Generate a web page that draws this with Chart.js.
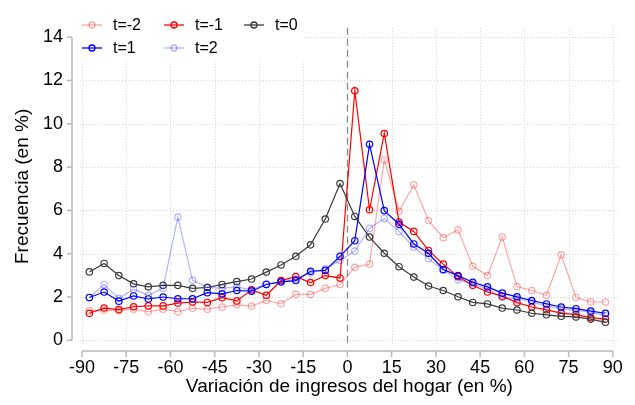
<!DOCTYPE html>
<html>
<head>
    <title>Variación de ingresos del hogar</title>
    <script src="https://cdn.jsdelivr.net/npm/chart.js"></script>
    <style>
        html, body {
            margin: 0;
            padding: 0;
            background-color: white;
        }
        #wrap {
            width: 635px;
            height: 405px;
        }
    </style>
</head>
<body>
    <div id="wrap"><canvas id="freqChart"></canvas></div>

    <script>
        // bin midpoints (% change in household income)
        const binMid = [-87.5, -82.5, -77.5, -72.5, -67.5, -62.5, -57.5, -52.5, -47.5, -42.5,
                        -37.5, -32.5, -27.5, -22.5, -17.5, -12.5, -7.5, -2.5, 2.5, 7.5,
                        12.5, 17.5, 22.5, 27.5, 32.5, 37.5, 42.5, 47.5, 52.5, 57.5,
                        62.5, 67.5, 72.5, 77.5, 82.5, 87.5];

        const seriesNames = ['t=-2', 't=-1', 't=0', 't=1', 't=2'];

        const tMinus2 = [1.37, 1.39, 1.37, 1.44, 1.32, 1.44, 1.32, 1.48, 1.44, 1.54,
                         1.64, 1.58, 1.84, 1.69, 2.12, 2.12, 2.40, 2.58, 3.37, 3.52,
                         8.33, 5.96, 7.18, 5.53, 4.74, 5.10, 3.42, 2.99, 4.77, 2.48,
                         2.30, 2.08, 3.95, 1.98, 1.78, 1.77];
        const tMinus1 = [1.25, 1.49, 1.42, 1.55, 1.59, 1.59, 1.72, 1.77, 1.75, 1.97,
                         1.82, 2.33, 2.08, 2.76, 2.94, 2.67, 2.99, 2.88, 11.52, 6.03,
                         9.55, 5.46, 5.03, 4.15, 3.52, 2.94, 2.54, 2.23, 2.04, 1.74,
                         1.54, 1.41, 1.26, 1.19, 1.05, 0.98];
        const tZero   = [3.16, 3.55, 2.99, 2.61, 2.47, 2.54, 2.54, 2.40, 2.44, 2.58,
                         2.71, 2.83, 3.15, 3.48, 3.88, 4.41, 5.60, 7.24, 5.72, 4.77,
                         4.02, 3.40, 2.92, 2.51, 2.30, 2.01, 1.75, 1.68, 1.49, 1.40,
                         1.25, 1.18, 1.11, 1.08, 0.98, 0.83];
        const tPlus1  = [1.98, 2.23, 1.81, 2.05, 1.91, 2.00, 1.92, 1.92, 2.20, 2.15,
                         2.30, 2.27, 2.58, 2.70, 2.76, 3.19, 3.23, 3.88, 4.60, 9.05,
                         5.99, 5.36, 4.45, 4.02, 3.27, 2.99, 2.68, 2.47, 2.18, 2.01,
                         1.84, 1.68, 1.54, 1.46, 1.35, 1.25];
        const tPlus2  = [1.97, 2.58, 1.94, 2.36, 2.08, 2.41, 5.69, 2.77, 2.46, 2.40,
                         2.47, 2.33, 2.61, 2.68, 2.83, 3.12, 3.30, 3.69, 4.12, 5.17,
                         5.63, 5.03, 4.30, 3.77, 3.23, 2.80, 2.61, 2.37, 1.98, 1.93,
                         1.77, 1.58, 1.46, 1.39, 1.29, 1.15];

        const xTicks = [-90, -75, -60, -45, -30, -15, 0, 15, 30, 45, 60, 75, 90];
        const yTicks = [0, 2, 4, 6, 8, 10, 12, 14];

        const colors = ['rgba(255,0,0,0.35)', '#ff0000', '#3a3a3a', '#0000ff', 'rgba(0,0,255,0.3)'];
        const allSeries = [tMinus2, tMinus1, tZero, tPlus1, tPlus2];

        const tickFont = { family: 'Liberation Sans, Arial, sans-serif', size: 18 };
        const titleFont = { family: 'Liberation Sans, Arial, sans-serif', size: 19 };

        // stata-like axes, grid, zero line and legend
        const stataLook = {
            id: 'stataLook',
            beforeDatasetsDraw(chart) {
                const { ctx, chartArea: a, scales: { x, y } } = chart;
                const seg = (x1, y1, x2, y2) => {
                    ctx.beginPath(); ctx.moveTo(x1, y1); ctx.lineTo(x2, y2); ctx.stroke();
                };
                ctx.save();
                ctx.strokeStyle = '#d4d4d4';
                ctx.lineWidth = 1;
                ctx.setLineDash([1, 2]);
                yTicks.forEach(v => {
                    const py = Math.round(y.getPixelForValue(v)) + 0.5;
                    seg(a.left, py, a.right, py);
                });
                xTicks.forEach(v => {
                    if (v === 0) return;
                    const px = Math.round(x.getPixelForValue(v)) + 0.5;
                    seg(px, a.top, px, a.bottom);
                });
                // dashed line at zero
                ctx.strokeStyle = '#8a8a8a';
                ctx.lineWidth = 1.3;
                ctx.setLineDash([7, 4]);
                const x0 = Math.round(x.getPixelForValue(0)) + 0.5;
                seg(x0, a.top, x0, a.bottom);

                // axis lines
                ctx.setLineDash([]);
                ctx.strokeStyle = '#b8b8b8';
                ctx.lineWidth = 1.5;
                const ax = a.left - 8;
                seg(ax, y.getPixelForValue(0), ax, y.getPixelForValue(14));
                yTicks.forEach(v => {
                    const py = y.getPixelForValue(v);
                    seg(ax - 5, py, ax, py);
                });
                const ay = a.bottom + 6;
                seg(x.getPixelForValue(-90), ay, x.getPixelForValue(90), ay);
                xTicks.forEach(v => {
                    const px = x.getPixelForValue(v);
                    seg(px, ay, px, ay + 6);
                });
                ctx.restore();
            },
            afterDatasetsDraw(chart) {
                const { ctx, chartArea: a } = chart;
                ctx.save();
                ctx.fillStyle = 'white';
                ctx.fillRect(a.left, 8, 224, 52);
                const cols = [92, 174, 254];
                const rows = [25, 48];
                ctx.font = '16px Liberation Sans, Arial, sans-serif';
                ctx.textBaseline = 'middle';
                seriesNames.forEach((name, i) => {
                    const cx = cols[i % 3];
                    const cy = rows[Math.floor(i / 3)];
                    ctx.strokeStyle = colors[i];
                    ctx.lineWidth = 1.3;
                    ctx.beginPath(); ctx.moveTo(cx - 10, cy); ctx.lineTo(cx + 10, cy); ctx.stroke();
                    ctx.beginPath(); ctx.arc(cx, cy, 3, 0, Math.PI * 2); ctx.stroke();
                    ctx.fillStyle = '#000';
                    ctx.fillText(name, cx + 21, cy + 1);
                });
                ctx.restore();
            }
        };

        const datasets = allSeries.map((vals, i) => ({
            label: seriesNames[i],
            data: binMid.map((xv, j) => ({ x: xv, y: vals[j] })),
            borderColor: colors[i],
            borderWidth: 1.2,
            pointRadius: 3.2,
            pointBorderWidth: 1.2,
            pointBorderColor: colors[i],
            pointBackgroundColor: 'rgba(0,0,0,0)',
            fill: false,
            tension: 0,
            order: 5 - i
        }));

        new Chart(document.getElementById('freqChart').getContext('2d'), {
            type: 'line',
            data: { datasets: datasets },
            plugins: [stataLook],
            options: {
                responsive: true,
                maintainAspectRatio: false,
                animation: false,
                layout: { padding: { left: 0, right: 13, top: 5, bottom: 0 } },
                plugins: {
                    legend: { display: false },
                    tooltip: { enabled: false }
                },
                scales: {
                    x: {
                        type: 'linear',
                        min: -90.674,
                        max: 92.02,
                        afterBuildTicks: s => { s.ticks = xTicks.map(v => ({ value: v })); },
                        afterFit: s => { s.height = 60; },
                        grid: { display: false, drawTicks: false },
                        border: { display: false },
                        ticks: {
                            color: '#000',
                            font: tickFont,
                            padding: 12,
                            maxRotation: 0,
                            autoSkip: false,
                            callback: v => String(v)
                        },
                        title: {
                            display: true,
                            text: 'Variación de ingresos del hogar (en %)',
                            color: '#000',
                            font: titleFont,
                            padding: { top: 0, bottom: 7 }
                        }
                    },
                    y: {
                        min: -0.2154,
                        max: 14.431,
                        afterBuildTicks: s => { s.ticks = yTicks.map(v => ({ value: v })); },
                        afterFit: s => { s.width = 80; },
                        grid: { display: false, drawTicks: false },
                        border: { display: false },
                        ticks: {
                            color: '#000',
                            font: tickFont,
                            padding: 17,
                            autoSkip: false,
                            callback: v => String(v)
                        },
                        title: {
                            display: true,
                            text: 'Frecuencia (en %)',
                            color: '#000',
                            font: titleFont,
                            padding: { top: 11, bottom: 0 }
                        }
                    }
                }
            }
        });
    </script>
</body>
</html>
